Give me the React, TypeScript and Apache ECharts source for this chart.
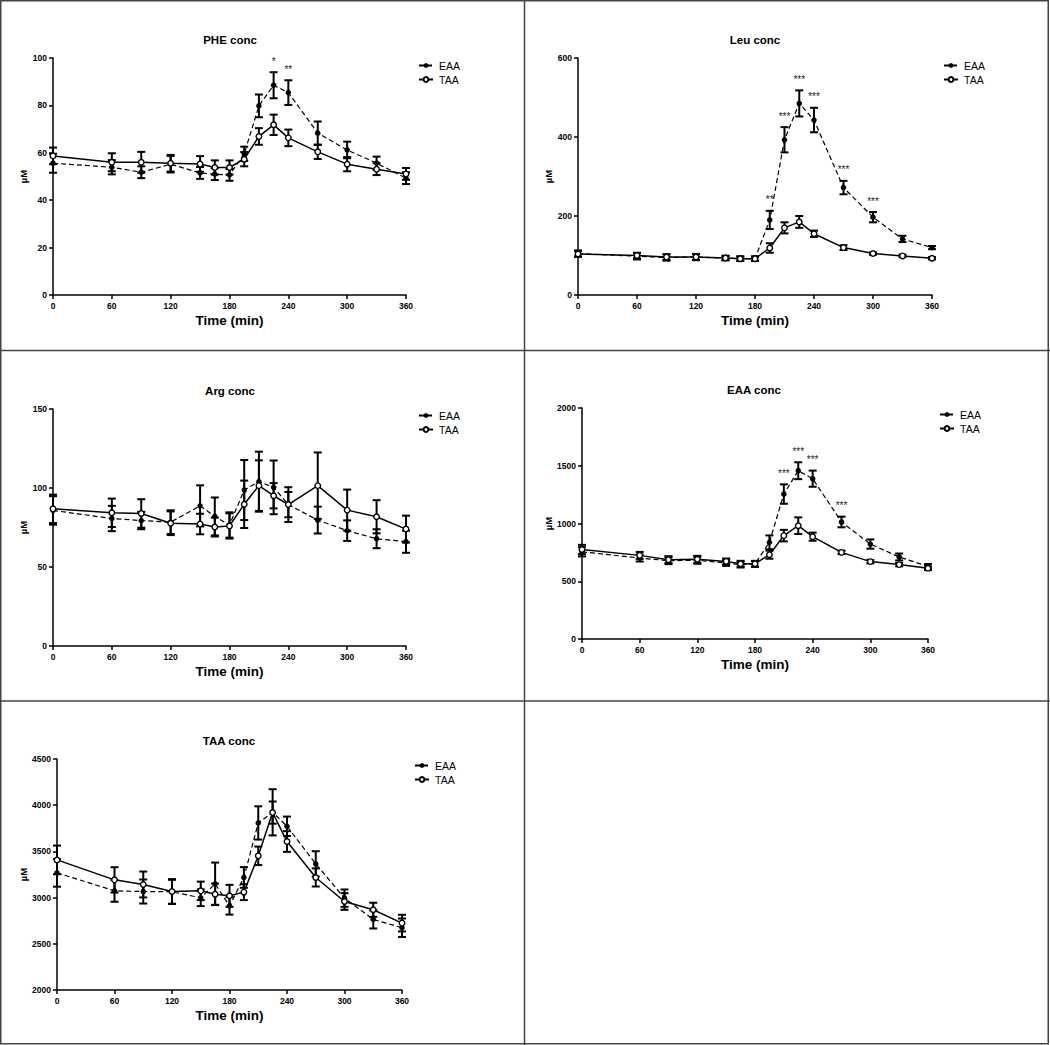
import React, { useEffect, useRef } from "react";
import * as echarts from "echarts";

const TIMES = [0, 60, 90, 120, 150, 165, 180, 195, 210, 225, 240, 270, 300, 330, 360];

// PHE conc
const pheEAA = [55.6, 53.9, 51.8, 55.2, 51.5, 51.0, 50.7, 59.6, 79.8, 88.5, 85.4, 68.3, 61.2, 55.6, 49.3];
const pheEAAErr = [4, 3, 2.5, 3.5, 2.5, 2.5, 2.5, 3, 4.8, 5.5, 5.2, 4.9, 3.5, 2.8, 2.5];
const pheTAA = [58.7, 56.0, 56.0, 55.6, 55.3, 53.8, 53.8, 57.3, 66.9, 71.8, 66.3, 60.4, 55.2, 53.1, 51.1];
const pheTAAErr = [3.5, 3.8, 4.4, 3.5, 3.3, 3, 3, 3, 3.5, 4.3, 3.5, 3, 3, 2.5, 2.5];
const pheStars: [number, string][] = [[225, "*"], [240, "**"]];

// Leu conc
const leuEAA = [105, 98, 95, 96, 93.5, 92, 92, 190, 393, 485, 443, 272, 197, 142, 120];
const leuEAAErr = [8, 8, 8, 8, 6, 6, 6, 23, 32, 33, 31, 17, 13, 8, 4];
const leuTAA = [104, 100, 96, 96, 93.5, 92, 92, 119, 170, 185, 155, 120, 105, 99, 93];
const leuTAAErr = [7, 7, 7, 7, 5, 5, 5, 12, 14, 15, 8, 6, 3, 3, 3];
const leuStars: [number, string][] = [[195, "**"], [210, "***"], [225, "***"], [240, "***"], [270, "***"], [300, "***"]];

// Arg conc
const argEAA = [85.8, 80.7, 79.4, 78.4, 88.7, 82, 76.6, 98.7, 104, 100.4, 89.5, 79.7, 73, 67.9, 66];
const argEAAErr = [9, 8, 5.5, 7.5, 13, 12, 8, 19, 19, 17, 8, 8.5, 6.5, 6, 7];
const argTAA = [86.8, 84.3, 83.9, 77.7, 77.2, 75.3, 76, 89.7, 101.5, 95.1, 89.5, 101.5, 86, 81.8, 74];
const argTAAErr = [9, 9, 9, 7.5, 6.5, 6, 8, 15, 16, 8, 11, 21, 13, 10.5, 8.5];
const argStars: [number, string][] = [];

// EAA conc
const eaaEAA = [755, 701, 678, 681, 658, 644, 650, 837, 1255, 1457, 1388, 1013, 822, 710, 629];
const eaaEAAErr = [40, 30, 30, 30, 25, 25, 25, 60, 84, 73, 70, 46, 40, 30, 20];
const eaaTAA = [775, 724, 687, 690, 672, 652, 652, 730, 895, 981, 886, 750, 670, 644, 612];
const eaaTAAErr = [40, 30, 30, 30, 25, 25, 25, 35, 50, 72, 35, 15, 15, 15, 15];
const eaaStars: [number, string][] = [[210, "***"], [225, "***"], [240, "***"], [270, "***"]];

// TAA conc
const taaEAA = [3268, 3073, 3066, 3063, 2998, 3149, 2911, 3218, 3808, 3923, 3772, 3365, 2994, 2764, 2674];
const taaEAAErr = [150, 118, 130, 130, 90, 230, 95, 112, 180, 250, 105, 137, 94, 98, 100];
const taaTAA = [3408, 3192, 3142, 3066, 3073, 3037, 3019, 3059, 3452, 3920, 3607, 3218, 2958, 2868, 2724];
const taaTAAErr = [155, 137, 140, 134, 100, 115, 119, 86, 100, 120, 112, 98, 90, 76, 90];
const taaStars: [number, string][] = [];

const FONT = "'Liberation Sans', Arial, Helvetica, sans-serif";

type Panel = {
  title: string;
  eaa: number[]; eaaErr: number[]; taa: number[]; taaErr: number[];
  stars: [number, string][];
  yMin: number; yMax: number; yStep: number;
  grid: { left: number; top: number; right: number; bottom: number };
  titlePos: [number, number];
  legendPos: [number, number];
};

const PANELS: Panel[] = [
  { title: "PHE conc", eaa: pheEAA, eaaErr: pheEAAErr, taa: pheTAA, taaErr: pheTAAErr, stars: pheStars,
    yMin: 0, yMax: 100, yStep: 20, grid: { left: 53, top: 58, right: 406, bottom: 295 },
    titlePos: [230, 40], legendPos: [418, 60] },
  { title: "Leu conc", eaa: leuEAA, eaaErr: leuEAAErr, taa: leuTAA, taaErr: leuTAAErr, stars: leuStars,
    yMin: 0, yMax: 600, yStep: 200, grid: { left: 578, top: 58, right: 932, bottom: 295 },
    titlePos: [755, 40], legendPos: [943, 60] },
  { title: "Arg conc", eaa: argEAA, eaaErr: argEAAErr, taa: argTAA, taaErr: argTAAErr, stars: argStars,
    yMin: 0, yMax: 150, yStep: 50, grid: { left: 53, top: 409, right: 406, bottom: 646 },
    titlePos: [230, 391], legendPos: [418, 410] },
  { title: "EAA conc", eaa: eaaEAA, eaaErr: eaaEAAErr, taa: eaaTAA, taaErr: eaaTAAErr, stars: eaaStars,
    yMin: 0, yMax: 2000, yStep: 500, grid: { left: 582, top: 408, right: 928, bottom: 639 },
    titlePos: [754, 390], legendPos: [939, 409] },
  { title: "TAA conc", eaa: taaEAA, eaaErr: taaEAAErr, taa: taaTAA, taaErr: taaTAAErr, stars: taaStars,
    yMin: 2000, yMax: 4500, yStep: 500, grid: { left: 57, top: 759, right: 402, bottom: 990 },
    titlePos: [229, 741], legendPos: [414, 760] },
];

function errorBarRender(params: any, api: any) {
  const x = api.value(0);
  const y = api.value(1);
  const e = api.value(2);
  const top = api.coord([x, y + e]);
  const bot = api.coord([x, y - e]);
  const hw = 4;
  const style = { stroke: "#000", lineWidth: 2 };
  return {
    type: "group",
    children: [
      { type: "line", shape: { x1: top[0], y1: top[1], x2: bot[0], y2: bot[1] }, style },
      { type: "line", shape: { x1: top[0] - hw, y1: top[1], x2: top[0] + hw, y2: top[1] }, style },
      { type: "line", shape: { x1: bot[0] - hw, y1: bot[1], x2: bot[0] + hw, y2: bot[1] }, style },
    ],
  };
}

function buildOption() {
  const grid: any[] = [];
  const xAxis: any[] = [];
  const yAxis: any[] = [];
  const series: any[] = [];
  const legend: any[] = [];
  const graphic: any[] = [];

  PANELS.forEach((p, i) => {
    grid.push({
      left: p.grid.left, top: p.grid.top,
      width: p.grid.right - p.grid.left, height: p.grid.bottom - p.grid.top,
      containLabel: false,
    });
    const axisCommon = {
      axisLine: { show: true, lineStyle: { color: "#000", width: 1.5 } },
      axisTick: { show: true, length: 4, lineStyle: { color: "#000", width: 1.5 } },
      splitLine: { show: false },
    };
    xAxis.push({
      type: "value", gridIndex: i, min: 0, max: 360, interval: 60,
      ...axisCommon,
      axisLabel: { fontSize: 8.5, fontWeight: "bold", color: "#000", margin: 6, fontFamily: FONT,
        formatter: (v: number) => String(v) },
      name: "Time (min)", nameLocation: "middle", nameGap: 18,
      nameTextStyle: { fontSize: 13.5, fontWeight: "bold", color: "#000", fontFamily: FONT },
    });
    yAxis.push({
      type: "value", gridIndex: i, min: p.yMin, max: p.yMax, interval: p.yStep,
      ...axisCommon,
      axisLabel: { fontSize: 8.5, fontWeight: "bold", color: "#000", margin: 6, fontFamily: FONT,
        formatter: (v: number) => String(v) },
      name: "µM", nameLocation: "middle", nameGap: 22, nameRotate: 90,
      nameTextStyle: { fontSize: 9.5, fontWeight: "bold", color: "#000", fontFamily: FONT },
    });

    const eaaErrData = TIMES.map((t, k) => [t, p.eaa[k], p.eaaErr[k]]);
    const taaErrData = TIMES.map((t, k) => [t, p.taa[k], p.taaErr[k]]);

    series.push({
      type: "custom", name: "EAA err", xAxisIndex: i, yAxisIndex: i,
      renderItem: errorBarRender, data: eaaErrData, encode: { x: 0, y: 1 }, z: 2, silent: true,
    });
    series.push({
      type: "custom", name: "TAA err", xAxisIndex: i, yAxisIndex: i,
      renderItem: errorBarRender, data: taaErrData, encode: { x: 0, y: 1 }, z: 2, silent: true,
    });
    series.push({
      type: "line", name: "EAA", xAxisIndex: i, yAxisIndex: i,
      data: TIMES.map((t, k) => [t, p.eaa[k]]),
      symbol: "circle", symbolSize: 5.5,
      itemStyle: { color: "#000" },
      lineStyle: { color: "#000", width: 1.2, type: [5, 3] },
      z: 3,
    });
    series.push({
      type: "line", name: "TAA", xAxisIndex: i, yAxisIndex: i,
      data: TIMES.map((t, k) => [t, p.taa[k]]),
      symbol: "circle", symbolSize: 5.5, showAllSymbol: true,
      itemStyle: { color: "#fff", borderColor: "#000", borderWidth: 1.4 },
      lineStyle: { color: "#000", width: 1.5 },
      z: 4,
    });
    if (p.stars.length) {
      const starData = p.stars.map(([t]) => {
        const k = TIMES.indexOf(t);
        return [t, p.eaa[k] + p.eaaErr[k]];
      });
      const labels = p.stars.map((s) => s[1]);
      series.push({
        type: "custom", name: "stars", xAxisIndex: i, yAxisIndex: i,
        data: starData, encode: { x: 0, y: 1 }, z: 5, silent: true,
        renderItem: (params: any, api: any) => {
          const c = api.coord([api.value(0), api.value(1)]);
          return {
            type: "text", x: c[0], y: c[1] - 11,
            style: {
              text: labels[params.dataIndex], textAlign: "center", textVerticalAlign: "middle",
              fontSize: 10, fill: "#222", fontFamily: FONT,
            },
          };
        },
      });
    }

    legend.push({
      data: ["EAA", "TAA"], orient: "vertical", left: p.legendPos[0], top: p.legendPos[1],
      itemWidth: 14, itemHeight: 6, itemGap: 3, selectedMode: false, padding: 0,
      textStyle: { fontSize: 10.5, color: "#000", fontFamily: FONT, padding: [0, 0, 0, 1] },
    });

    graphic.push({
      type: "text", x: p.titlePos[0], y: p.titlePos[1],
      style: { text: p.title, textAlign: "center", textVerticalAlign: "middle",
        fontSize: 11.5, fontWeight: "bold", fill: "#000", fontFamily: FONT },
    });
  });

  const border = { stroke: "#444", lineWidth: 1.5, fill: "none" };
  graphic.push({ type: "rect", shape: { x: 0.75, y: 0.75, width: 1047.5, height: 1043 }, style: { ...border, fill: "transparent" } });
  graphic.push({ type: "line", shape: { x1: 524.5, y1: 0, x2: 524.5, y2: 1045 }, style: border });
  graphic.push({ type: "line", shape: { x1: 0, y1: 350.5, x2: 1050, y2: 350.5 }, style: border });
  graphic.push({ type: "line", shape: { x1: 0, y1: 701, x2: 1050, y2: 701 }, style: border });

  return {
    animation: false,
    backgroundColor: "#fff",
    textStyle: { fontFamily: FONT },
    grid, xAxis, yAxis, series, legend, graphic,
  };
}

export default function App() {
  const ref = useRef<HTMLDivElement>(null);
  useEffect(() => {
    if (!ref.current) return;
    const chart = echarts.init(ref.current, undefined, { renderer: "svg" });
    chart.setOption(buildOption() as any);
    return () => chart.dispose();
  }, []);
  return (
    <div
      ref={ref}
      style={{ position: "absolute", left: 0, top: 0, width: 1050, height: 1045, background: "#fff" }}
    />
  );
}
